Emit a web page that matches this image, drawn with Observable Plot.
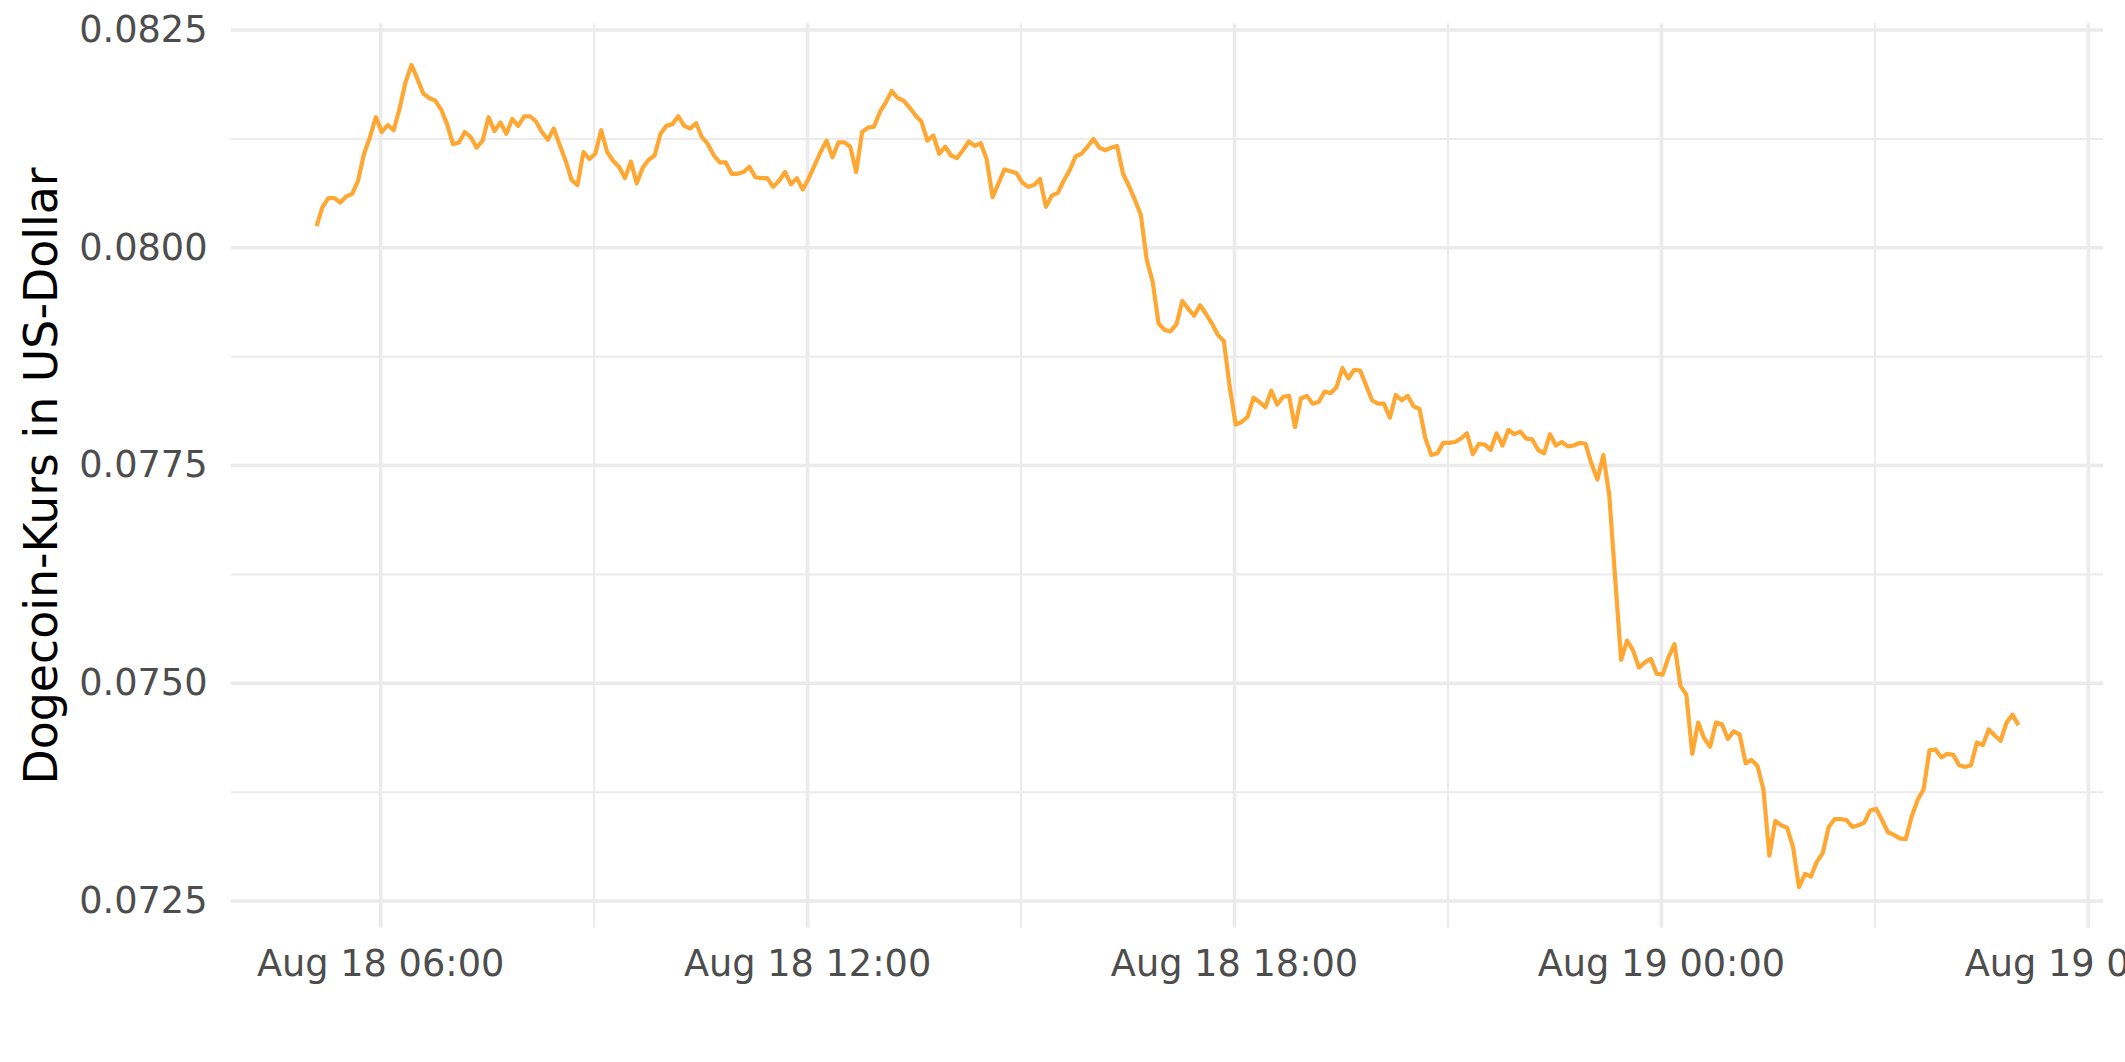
<!DOCTYPE html>
<html>
<head>
<meta charset="utf-8">
<script src="https://cdn.jsdelivr.net/npm/d3@7"></script>
<script src="https://cdn.jsdelivr.net/npm/@observablehq/plot@0.6"></script>
<style>
  html, body { margin: 0; padding: 0; background: #fff; }
  #chart { width: 2125px; height: 1062px; overflow: hidden; }
</style>
</head>
<body>
<div id="chart"></div>
<script>
// ---- Data (5-minute Dogecoin prices) ----
const times = [
"2022-08-18 05:06","2022-08-18 05:11","2022-08-18 05:16","2022-08-18 05:21","2022-08-18 05:26","2022-08-18 05:31","2022-08-18 05:36","2022-08-18 05:41","2022-08-18 05:46","2022-08-18 05:51","2022-08-18 05:56",
"2022-08-18 06:01","2022-08-18 06:06","2022-08-18 06:11","2022-08-18 06:16","2022-08-18 06:21","2022-08-18 06:26","2022-08-18 06:31","2022-08-18 06:36","2022-08-18 06:41","2022-08-18 06:46","2022-08-18 06:51","2022-08-18 06:56",
"2022-08-18 07:01","2022-08-18 07:06","2022-08-18 07:11","2022-08-18 07:16","2022-08-18 07:21","2022-08-18 07:26","2022-08-18 07:31","2022-08-18 07:36","2022-08-18 07:41","2022-08-18 07:46","2022-08-18 07:51","2022-08-18 07:56",
"2022-08-18 08:01","2022-08-18 08:06","2022-08-18 08:11","2022-08-18 08:16","2022-08-18 08:21","2022-08-18 08:26","2022-08-18 08:31","2022-08-18 08:36","2022-08-18 08:41","2022-08-18 08:46","2022-08-18 08:51","2022-08-18 08:56",
"2022-08-18 09:01","2022-08-18 09:06","2022-08-18 09:11","2022-08-18 09:16","2022-08-18 09:21","2022-08-18 09:26","2022-08-18 09:31","2022-08-18 09:36","2022-08-18 09:41","2022-08-18 09:46","2022-08-18 09:51","2022-08-18 09:56",
"2022-08-18 10:01","2022-08-18 10:06","2022-08-18 10:11","2022-08-18 10:16","2022-08-18 10:21","2022-08-18 10:26","2022-08-18 10:31","2022-08-18 10:36","2022-08-18 10:41","2022-08-18 10:46","2022-08-18 10:51","2022-08-18 10:56",
"2022-08-18 11:01","2022-08-18 11:06","2022-08-18 11:11","2022-08-18 11:16","2022-08-18 11:21","2022-08-18 11:26","2022-08-18 11:31","2022-08-18 11:36","2022-08-18 11:41","2022-08-18 11:46","2022-08-18 11:51","2022-08-18 11:56",
"2022-08-18 12:01","2022-08-18 12:06","2022-08-18 12:11","2022-08-18 12:16","2022-08-18 12:21","2022-08-18 12:26","2022-08-18 12:31","2022-08-18 12:36","2022-08-18 12:41","2022-08-18 12:46","2022-08-18 12:51","2022-08-18 12:56",
"2022-08-18 13:01","2022-08-18 13:06","2022-08-18 13:11","2022-08-18 13:16","2022-08-18 13:21","2022-08-18 13:26","2022-08-18 13:31","2022-08-18 13:36","2022-08-18 13:41","2022-08-18 13:46","2022-08-18 13:51","2022-08-18 13:56",
"2022-08-18 14:01","2022-08-18 14:06","2022-08-18 14:11","2022-08-18 14:16","2022-08-18 14:21","2022-08-18 14:26","2022-08-18 14:31","2022-08-18 14:36","2022-08-18 14:41","2022-08-18 14:46","2022-08-18 14:51","2022-08-18 14:56",
"2022-08-18 15:01","2022-08-18 15:06","2022-08-18 15:11","2022-08-18 15:16","2022-08-18 15:21","2022-08-18 15:26","2022-08-18 15:31","2022-08-18 15:36","2022-08-18 15:41","2022-08-18 15:46","2022-08-18 15:51","2022-08-18 15:56",
"2022-08-18 16:01","2022-08-18 16:06","2022-08-18 16:11","2022-08-18 16:16","2022-08-18 16:21","2022-08-18 16:26","2022-08-18 16:31","2022-08-18 16:36","2022-08-18 16:41","2022-08-18 16:46","2022-08-18 16:51","2022-08-18 16:56",
"2022-08-18 17:01","2022-08-18 17:06","2022-08-18 17:11","2022-08-18 17:16","2022-08-18 17:21","2022-08-18 17:26","2022-08-18 17:31","2022-08-18 17:36","2022-08-18 17:41","2022-08-18 17:46","2022-08-18 17:51","2022-08-18 17:56",
"2022-08-18 18:01","2022-08-18 18:06","2022-08-18 18:11","2022-08-18 18:16","2022-08-18 18:21","2022-08-18 18:26","2022-08-18 18:31","2022-08-18 18:36","2022-08-18 18:41","2022-08-18 18:46","2022-08-18 18:51","2022-08-18 18:56",
"2022-08-18 19:01","2022-08-18 19:06","2022-08-18 19:11","2022-08-18 19:16","2022-08-18 19:21","2022-08-18 19:26","2022-08-18 19:31","2022-08-18 19:36","2022-08-18 19:41","2022-08-18 19:46","2022-08-18 19:51","2022-08-18 19:56",
"2022-08-18 20:01","2022-08-18 20:06","2022-08-18 20:11","2022-08-18 20:16","2022-08-18 20:21","2022-08-18 20:26","2022-08-18 20:31","2022-08-18 20:36","2022-08-18 20:41","2022-08-18 20:46","2022-08-18 20:51","2022-08-18 20:56",
"2022-08-18 21:01","2022-08-18 21:06","2022-08-18 21:11","2022-08-18 21:16","2022-08-18 21:21","2022-08-18 21:26","2022-08-18 21:31","2022-08-18 21:36","2022-08-18 21:41","2022-08-18 21:46","2022-08-18 21:51","2022-08-18 21:56",
"2022-08-18 22:01","2022-08-18 22:06","2022-08-18 22:11","2022-08-18 22:16","2022-08-18 22:21","2022-08-18 22:26","2022-08-18 22:31","2022-08-18 22:36","2022-08-18 22:41","2022-08-18 22:46","2022-08-18 22:51","2022-08-18 22:56",
"2022-08-18 23:01","2022-08-18 23:06","2022-08-18 23:11","2022-08-18 23:16","2022-08-18 23:21","2022-08-18 23:26","2022-08-18 23:31","2022-08-18 23:36","2022-08-18 23:41","2022-08-18 23:46","2022-08-18 23:51","2022-08-18 23:56",
"2022-08-19 00:01","2022-08-19 00:06","2022-08-19 00:11","2022-08-19 00:16","2022-08-19 00:21","2022-08-19 00:26","2022-08-19 00:31","2022-08-19 00:36","2022-08-19 00:41","2022-08-19 00:46","2022-08-19 00:51","2022-08-19 00:56",
"2022-08-19 01:01","2022-08-19 01:06","2022-08-19 01:11","2022-08-19 01:16","2022-08-19 01:21","2022-08-19 01:26","2022-08-19 01:31","2022-08-19 01:36","2022-08-19 01:41","2022-08-19 01:46","2022-08-19 01:51","2022-08-19 01:56",
"2022-08-19 02:01","2022-08-19 02:06","2022-08-19 02:11","2022-08-19 02:16","2022-08-19 02:21","2022-08-19 02:26","2022-08-19 02:31","2022-08-19 02:36","2022-08-19 02:41","2022-08-19 02:46","2022-08-19 02:51","2022-08-19 02:56",
"2022-08-19 03:01","2022-08-19 03:06","2022-08-19 03:11","2022-08-19 03:16","2022-08-19 03:21","2022-08-19 03:26","2022-08-19 03:31","2022-08-19 03:36","2022-08-19 03:41","2022-08-19 03:46","2022-08-19 03:51","2022-08-19 03:56",
"2022-08-19 04:01","2022-08-19 04:06","2022-08-19 04:11","2022-08-19 04:16","2022-08-19 04:21","2022-08-19 04:26","2022-08-19 04:31","2022-08-19 04:36","2022-08-19 04:41","2022-08-19 04:46","2022-08-19 04:51","2022-08-19 04:56",
"2022-08-19 05:01"
];

const prices = [
0.08025,0.08047,0.08057,0.08057,0.08052,0.08059,0.08062,0.08077,0.08108,0.08127,0.08150,
0.08133,0.08141,0.08135,0.08160,0.08190,0.08210,0.08194,0.08177,0.08172,0.08169,0.08159,0.08142,
0.08119,0.08121,0.08133,0.08127,0.08115,0.08123,0.08150,0.08134,0.08144,0.08131,0.08148,0.08140,
0.08151,0.08151,0.08145,0.08133,0.08124,0.08137,0.08118,0.08100,0.08078,0.08072,0.08110,0.08102,
0.08108,0.08135,0.08110,0.08100,0.08093,0.08080,0.08099,0.08074,0.08092,0.08101,0.08106,0.08131,
0.08140,0.08142,0.08151,0.08140,0.08137,0.08143,0.08127,0.08119,0.08106,0.08098,0.08098,0.08085,
0.08085,0.08087,0.08093,0.08081,0.08080,0.08080,0.08070,0.08077,0.08087,0.08073,0.08080,0.08067,
0.08080,0.08095,0.08110,0.08123,0.08104,0.08121,0.08121,0.08116,0.08087,0.08133,0.08138,0.08139,
0.08156,0.08167,0.08180,0.08172,0.08169,0.08161,0.08152,0.08145,0.08123,0.08129,0.08108,0.08116,
0.08106,0.08103,0.08112,0.08122,0.08117,0.08120,0.08102,0.08058,0.08074,0.08090,0.08088,0.08086,
0.08075,0.08070,0.08072,0.08079,0.08047,0.08060,0.08063,0.08077,0.08089,0.08105,0.08108,0.08116,
0.08125,0.08115,0.08112,0.08115,0.08117,0.08085,0.08071,0.08055,0.08038,0.07986,0.07961,0.07913,
0.07906,0.07904,0.07912,0.07939,0.07930,0.07922,0.07934,0.07924,0.07913,0.07900,0.07893,0.07840,
0.07797,0.07800,0.07806,0.07828,0.07823,0.07817,0.07836,0.07820,0.07829,0.07830,0.07794,0.07827,
0.07830,0.07821,0.07823,0.07835,0.07833,0.07840,0.07862,0.07850,0.07860,0.07859,0.07842,0.07825,
0.07821,0.07821,0.07805,0.07831,0.07825,0.07830,0.07818,0.07815,0.07781,0.07762,0.07764,0.07776,
0.07776,0.07777,0.07781,0.07787,0.07763,0.07775,0.07774,0.07768,0.07787,0.07773,0.07791,0.07786,
0.07789,0.07781,0.07780,0.07768,0.07764,0.07786,0.07773,0.07777,0.07772,0.07773,0.07776,0.07775,
0.07752,0.07734,0.07762,0.07716,0.07620,0.07527,0.07549,0.07538,0.07518,0.07524,0.07528,0.07511,
0.07510,0.07530,0.07545,0.07497,0.07487,0.07419,0.07455,0.07437,0.07427,0.07455,0.07453,0.07436,
0.07445,0.07441,0.07408,0.07412,0.07405,0.07378,0.07302,0.07342,0.07337,0.07334,0.07312,0.07266,
0.07281,0.07278,0.07295,0.07305,0.07335,0.07344,0.07344,0.07343,0.07335,0.07337,0.07340,0.07354,
0.07356,0.07343,0.07329,0.07326,0.07322,0.07321,0.07347,0.07366,0.07378,0.07423,0.07424,0.07415,
0.07419,0.07418,0.07406,0.07404,0.07406,0.07432,0.07429,0.07447,0.07440,0.07434,0.07455,0.07464,
0.07452
];

// Tick values and labels
const xTickLabels = ["2022-08-18 06:00","2022-08-18 12:00","2022-08-18 18:00","2022-08-19 00:00","2022-08-19 06:00"];
const xMinorTicks = ["2022-08-18 09:00","2022-08-18 15:00","2022-08-18 21:00","2022-08-19 03:00"];
const yTickValues = [0.0725, 0.0750, 0.0775, 0.0800, 0.0825];
const yMinorTicks = [0.07375, 0.07625, 0.07875, 0.08125];
const yTitle = "Dogecoin-Kurs in US-Dollar";

// ---- Build ----
const parse = d3.timeParse("%Y-%m-%d %H:%M");
const data = times.map((t, i) => ({time: parse(t), price: prices[i]}));
const xTicks = xTickLabels.map(parse);
const xMinor = xMinorTicks.map(parse);

// ggplot-style 5% expansion
const xExt = d3.extent(data, d => d.time);
const xPad = (xExt[1] - xExt[0]) * 0.05;
const xDomain = [new Date(+xExt[0] - xPad), new Date(+xExt[1] + xPad)];
const yExt = d3.extent(data, d => d.price);
const yPad = (yExt[1] - yExt[0]) * 0.05;
const yDomain = [yExt[0] - yPad, yExt[1] + yPad];

const grid = "#ebebeb";
const tickFill = "#4d4d4d";

const chart = Plot.plot({
  width: 2125,
  height: 1062,
  marginTop: 23.3,
  marginBottom: 134.3,
  marginLeft: 231,
  marginRight: 22,
  x: {type: "time", domain: xDomain},
  y: {type: "linear", domain: yDomain},
  style: {fontFamily: "'DejaVu Sans', sans-serif", background: "#ffffff", overflow: "visible"},
  marks: [
    Plot.ruleY(yMinorTicks, {stroke: grid, strokeWidth: 2}),
    Plot.ruleX(xMinor, {stroke: grid, strokeWidth: 2}),
    Plot.ruleY(yTickValues, {stroke: grid, strokeWidth: 3.6}),
    Plot.ruleX(xTicks, {stroke: grid, strokeWidth: 3.6}),
    Plot.axisY({
      ticks: yTickValues,
      tickFormat: d3.format(".4f"),
      tickSize: 0,
      tickPadding: 24,
      fontSize: 36.7,
      color: tickFill,
      label: null
    }),
    Plot.axisX({
      ticks: xTicks,
      tickFormat: d3.timeFormat("%b %d %H:%M"),
      tickSize: 0,
      tickPadding: 21.5,
      fontSize: 36.7,
      color: tickFill,
      label: null
    }),
    Plot.line(data, {x: "time", y: "price", stroke: "#ffa733", strokeWidth: 4.2, strokeLinejoin: "round", strokeLinecap: "butt"}),
    Plot.text([yTitle], {
      text: d => d,
      frameAnchor: "left",
      textAnchor: "middle",
      lineAnchor: "middle",
      rotate: -90,
      dx: -189.5,
      fontSize: 45.8,
      fill: "#000000"
    })
  ]
});

document.getElementById("chart").appendChild(chart);
</script>
</body>
</html>
